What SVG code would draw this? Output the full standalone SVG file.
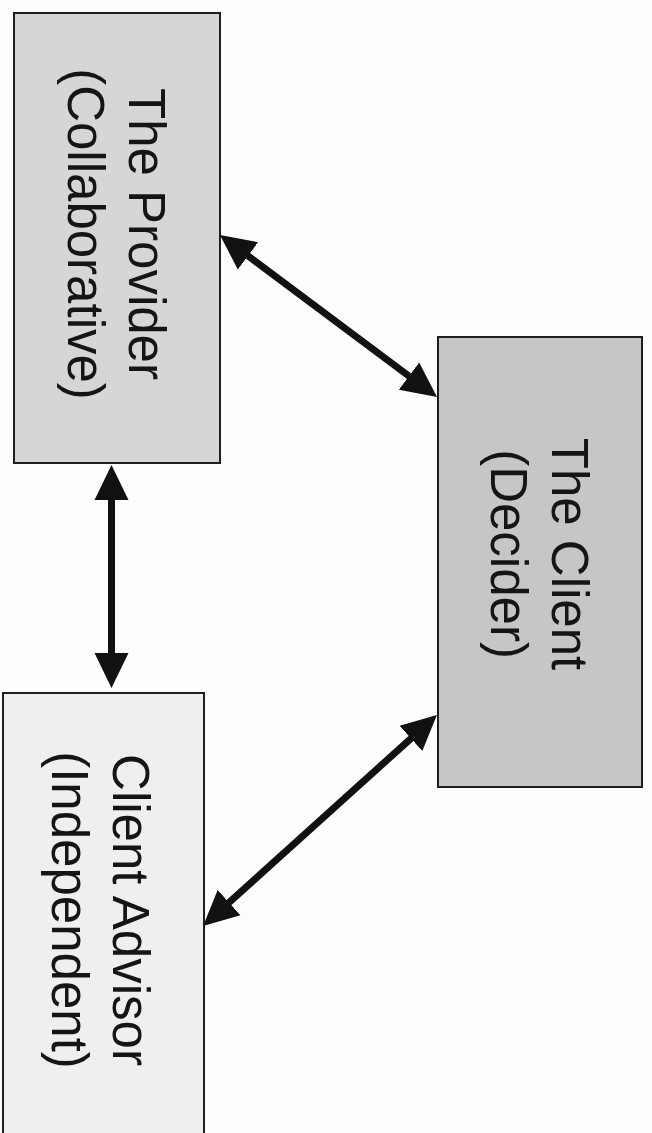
<svg xmlns="http://www.w3.org/2000/svg" width="652" height="1133" viewBox="0 0 652 1133">
  <style>
    .box { stroke: #1e1e1e; stroke-width: 2; }
    .label { font-family: "Liberation Sans", Arial, sans-serif; font-size: 51px; fill: #151515; text-anchor: middle; }
    .link { stroke: #111; stroke-width: 7; fill: none; marker-start: url(#head); marker-end: url(#head); }
  </style>
  <defs>
    <marker id="head" markerUnits="userSpaceOnUse" viewBox="0 -19 38 38" markerWidth="38" markerHeight="38" refX="4" refY="0" orient="auto-start-reverse">
      <path d="M0,-17 L35,0 L0,17 z" fill="#111"/>
    </marker>
  </defs>

  <rect width="652" height="1133" fill="#fdfdfd"/>

  <!-- The Provider -->
  <g id="provider">
    <rect class="box" x="14" y="13" width="206" height="450" fill="#d6d6d6"/>
    <g transform="translate(0,234) rotate(90)">
      <text class="label" x="0" y="-129">The Provider</text>
      <text class="label" x="0" y="-68">(Collaborative)</text>
    </g>
  </g>

  <!-- The Client -->
  <g id="client">
    <rect class="box" x="438" y="337" width="204" height="450" fill="#c6c6c6"/>
    <g transform="translate(0,554) rotate(90)">
      <text class="label" x="0" y="-552">The Client</text>
      <text class="label" x="0" y="-491">(Decider)</text>
    </g>
  </g>

  <!-- Client Advisor -->
  <g id="advisor">
    <rect class="box" x="3" y="693" width="201" height="460" fill="#efefef"/>
    <g transform="translate(0,910) rotate(90)">
      <text class="label" x="0" y="-113">Client Advisor</text>
      <text class="label" x="0" y="-52">(Independent)</text>
    </g>
  </g>

  <!-- two-way connectors -->
  <g id="connectors">
    <line class="link" x1="244.8" y1="253.5" x2="412.2" y2="378.5"/>
    <line class="link" x1="111.5" y1="496" x2="111.5" y2="657"/>
    <line class="link" x1="413.9" y1="735.8" x2="226.1" y2="905.2"/>
  </g>
</svg>
